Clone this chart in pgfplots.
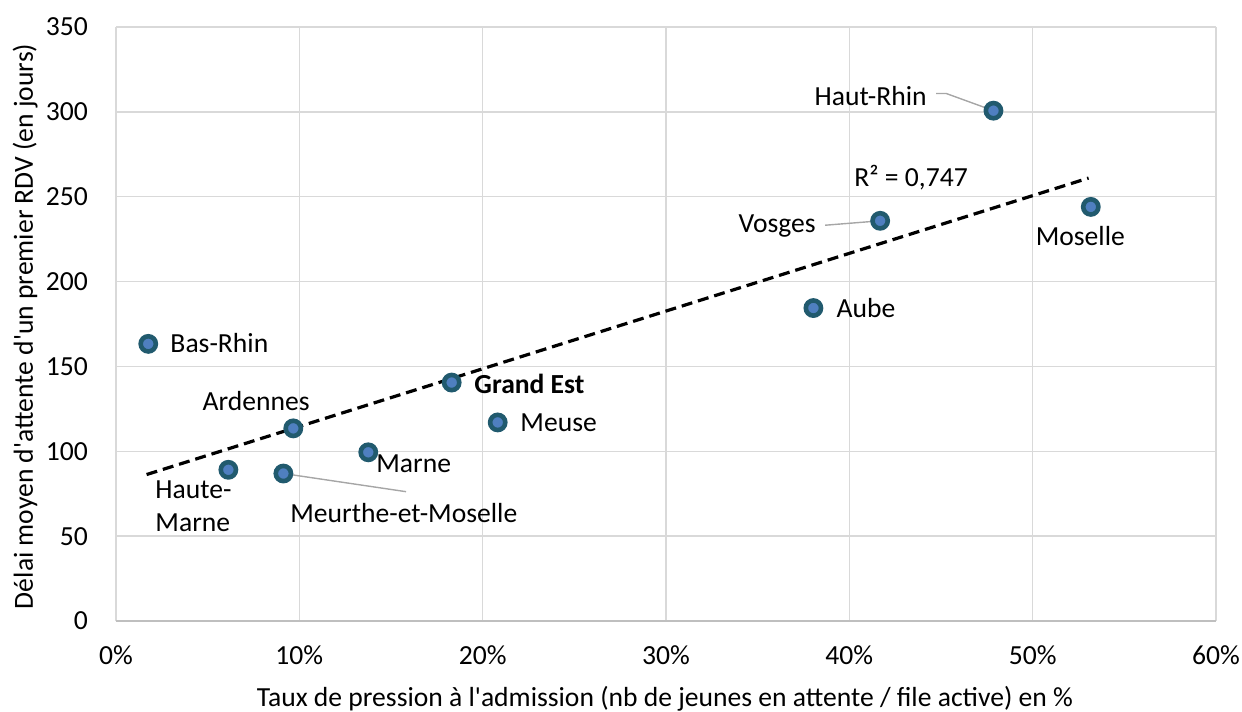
\documentclass[border=0pt]{standalone}
\usepackage{pgfplots}
\pgfplotsset{compat=1.18}
\usepackage{fontspec}
\setmainfont{Carlito}[Ligatures=TeXOff]
\definecolor{gridc}{HTML}{D9D9D9}
\definecolor{axc}{HTML}{BFBFBF}
\definecolor{mkdraw}{HTML}{215A6E}
\definecolor{mkfill}{HTML}{4F7FC0}
\definecolor{leader}{HTML}{A6A6A6}
\newcommand{\fs}{\fontsize{13.8}{16.5}\selectfont}
\begin{document}
\begin{tikzpicture}
\begin{axis}[
  scale only axis, width=550pt, height=297pt,
  xmin=0, xmax=60, ymin=0, ymax=350,
  xtick={0,10,...,60}, xticklabels={0\%,10\%,20\%,30\%,40\%,50\%,60\%},
  ytick={0,50,...,350},
  grid=major, major grid style={gridc, line width=0.7pt},
  axis line style={draw=none},
  tick style={draw=none},
  tick label style={font=\fs},
  /pgf/number format/assume math mode=true,
  xticklabel style={yshift=-8.7pt},
  yticklabel style={xshift=-10.5pt},
  xlabel={Taux de pression à l'admission (nb de jeunes en attente / file active) en \%},
  ylabel={Délai moyen d'attente d'un premier RDV (en jours)},
  label style={font=\fs},
  xlabel style={at={(axis description cs:0.499,-0.1306)}, anchor=center},
  ylabel style={at={(axis description cs:-0.0827,0.496)}, anchor=center},
  clip=false,
]
\draw[axc, line width=0.8pt] (rel axis cs:0,0) -- (rel axis cs:1,0);
% trend line
\addplot[black, line width=1.6pt, dash pattern=on 5.5pt off 3pt] coordinates {(1.67,86.3) (53.05,261)};
% leader lines
\addplot[leader, line width=0.7pt] coordinates {(9.13,86.9) (15.82,76.2)};
\addplot[leader, line width=0.7pt] coordinates {(38.68,233.2) (41.68,235.8)};
\addplot[leader, line width=0.7pt] coordinates {(44.74,310.8) (45.29,310.8) (47.86,300.7)};
% points
\addplot[only marks, mark=*, mark size=3.8pt, mark options={draw=mkdraw, fill=mkfill, line width=2.3pt}] coordinates {
(1.76,163.3) (6.13,89.1) (9.13,86.9) (9.67,113.5) (13.76,99.4) (18.31,140.5)
(20.82,117.0) (38.04,184.4) (41.68,235.8) (47.86,300.7) (53.17,244.0)};
% labels
\node[font=\fs, anchor=west, inner sep=0pt] at (axis cs:2.95,163.7) {Bas-Rhin};
\node[font=\fs, anchor=north west, align=left, inner sep=0pt] at (axis cs:2.13,83) {Haute-\\Marne};
\node[font=\fs, anchor=west, inner sep=0pt] at (axis cs:9.49,63.5) {Meurthe-et-Moselle};
\node[font=\fs, anchor=center] at (axis cs:7.64,129.7) {Ardennes};
\node[font=\fs, anchor=west, inner sep=0pt] at (axis cs:14.18,92.7) {Marne};
\node[font=\fs\bfseries, anchor=west, inner sep=0pt] at (axis cs:19.53,139.7) {Grand Est};
\node[font=\fs, anchor=west, inner sep=0pt] at (axis cs:22.04,116.8) {Meuse};
\node[font=\fs, anchor=west, inner sep=0pt] at (axis cs:39.28,184.2) {Aube};
\node[font=\fs, anchor=east, inner sep=0pt] at (axis cs:38.19,232.9) {Vosges};
\node[font=\fs, anchor=east, inner sep=0pt] at (axis cs:44.24,309.6) {Haut-Rhin};
\node[font=\fs, anchor=center] at (axis cs:52.6,227) {Moselle};
\node[font=\fs, anchor=center] at (axis cs:43.37,261.4) {R² = 0,747};
\path (rel axis cs:0,0) ++(-58pt,-45pt) coordinate (bl);
\path (rel axis cs:1,1) ++(13pt,13.5pt) coordinate (tr);
\end{axis}
\pgfresetboundingbox
\useasboundingbox (bl) rectangle (tr);
\end{tikzpicture}
\end{document}
